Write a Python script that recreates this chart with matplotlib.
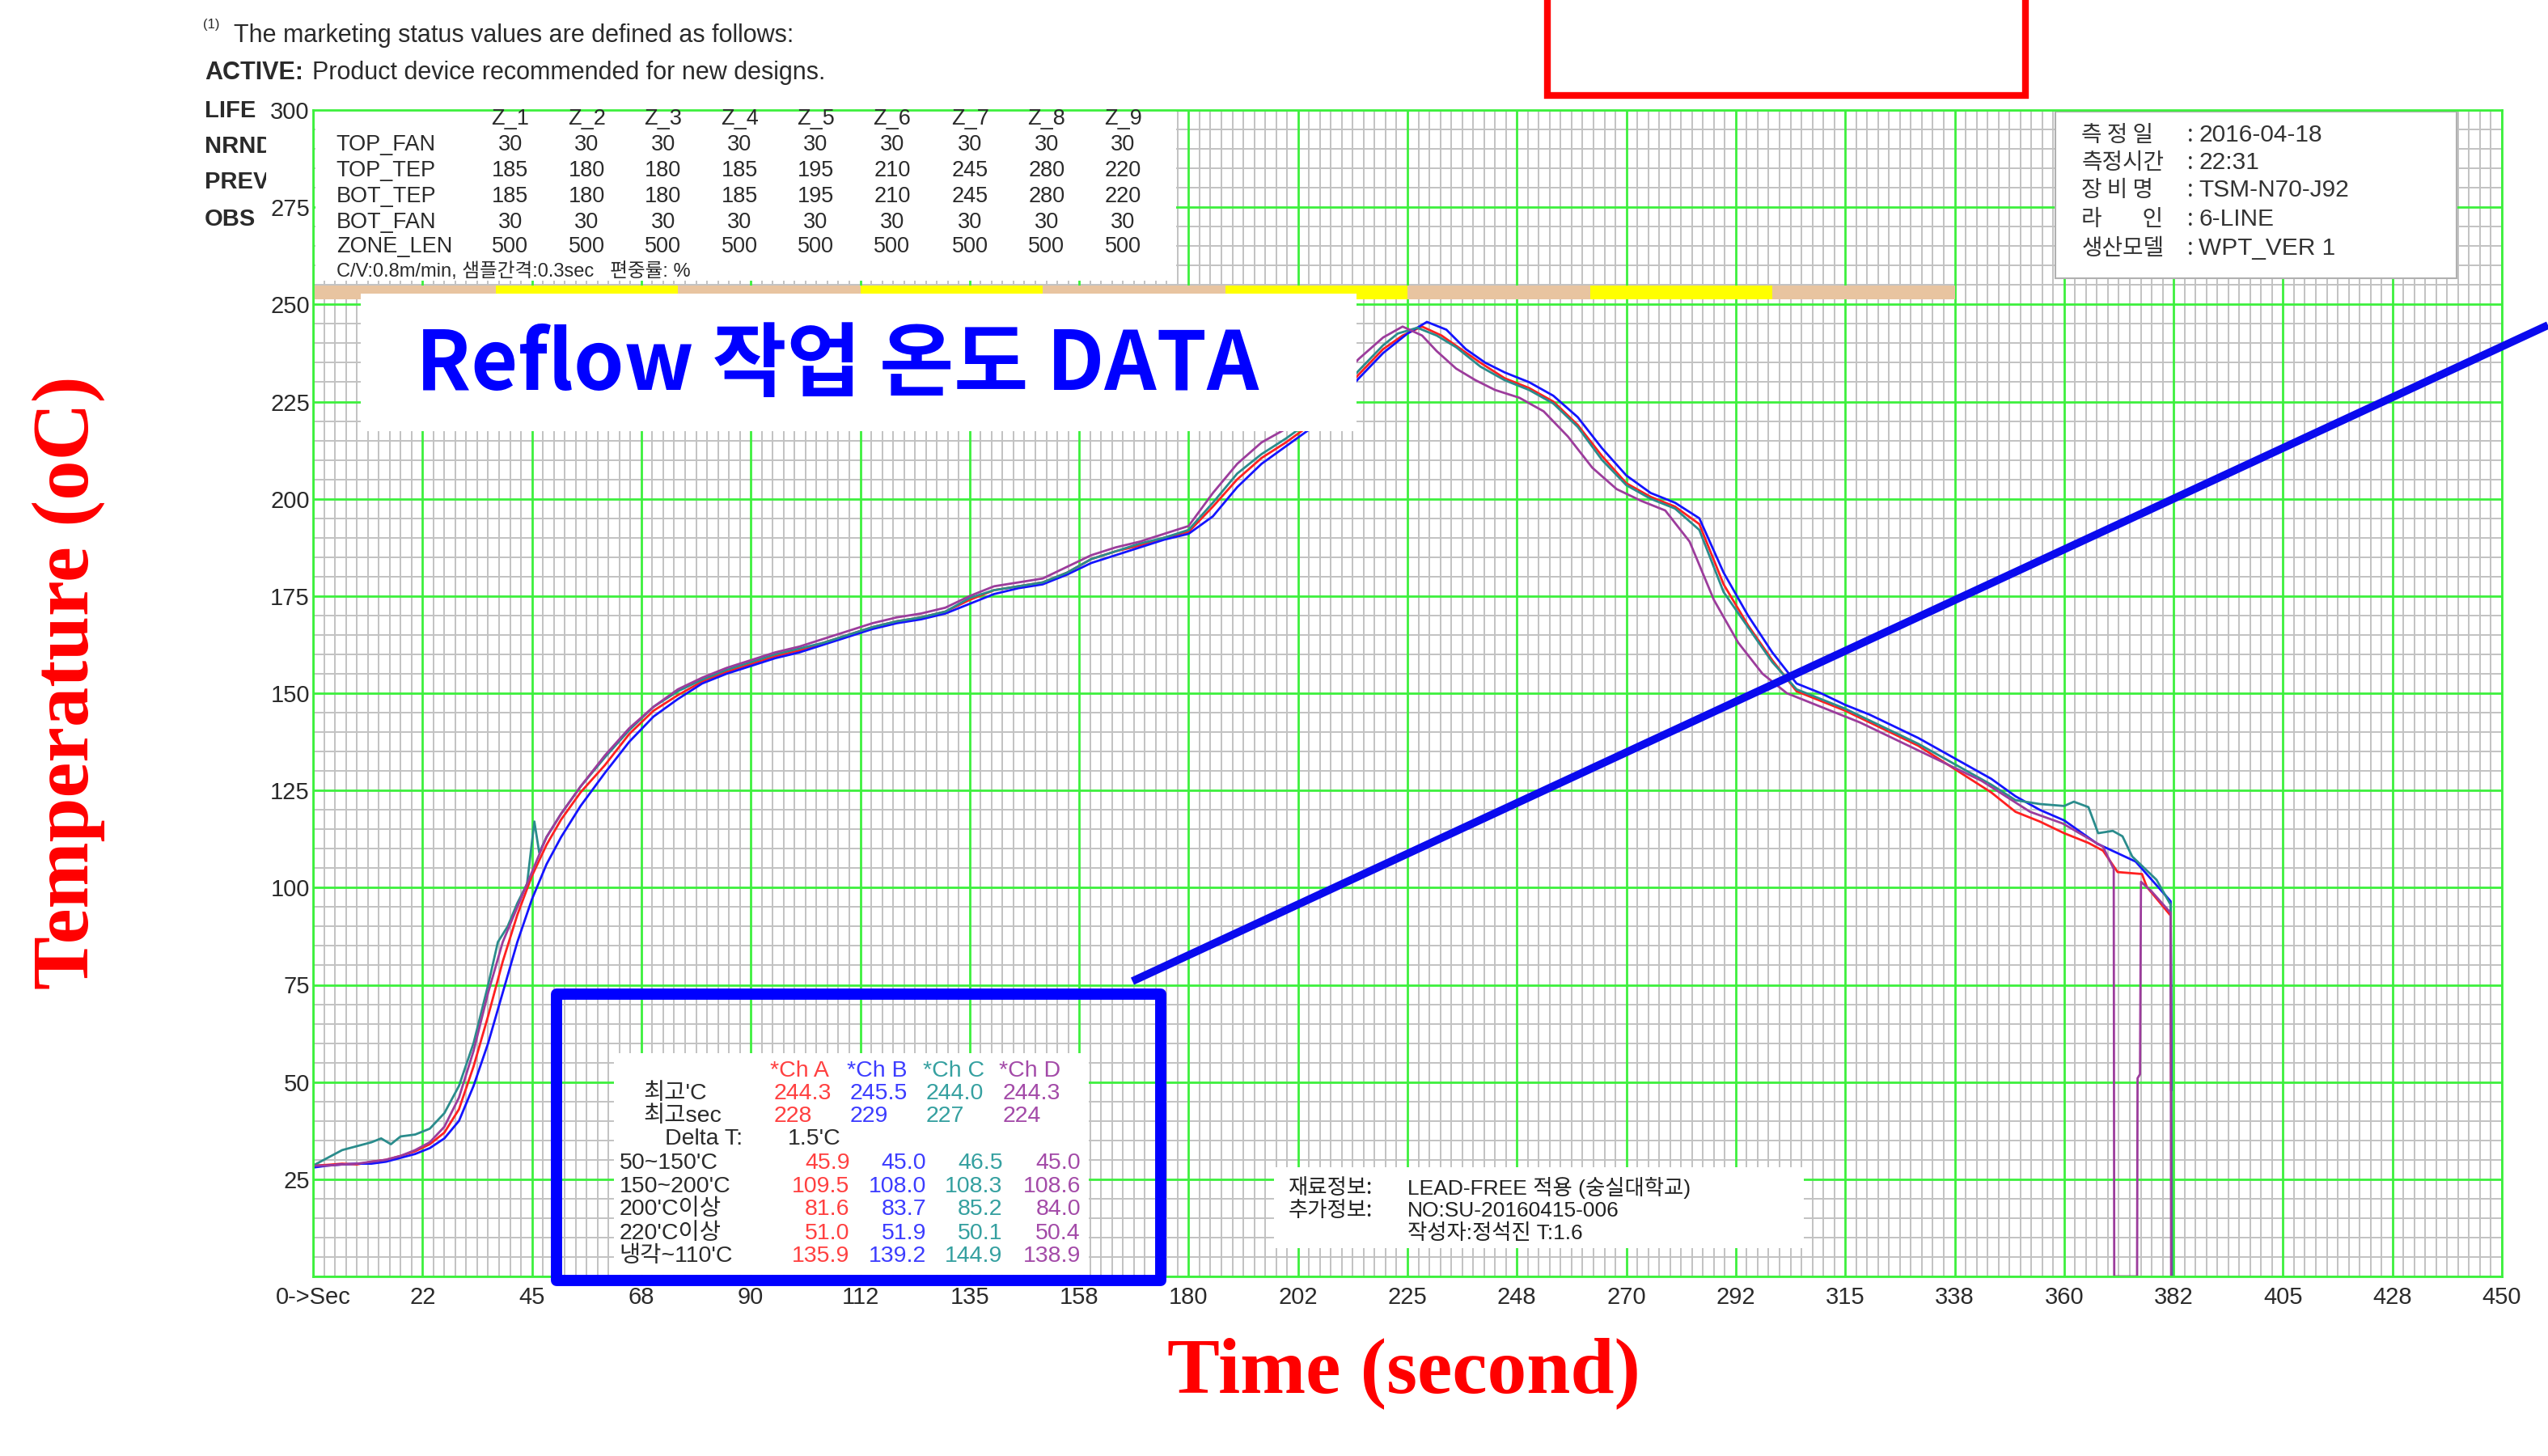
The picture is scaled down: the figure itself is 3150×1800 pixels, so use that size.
import numpy as np
import matplotlib
matplotlib.use("Agg")
import matplotlib.pyplot as plt
from matplotlib import font_manager
from matplotlib.patches import Rectangle
from matplotlib.lines import Line2D
from matplotlib.ticker import MultipleLocator
from matplotlib.transforms import Bbox, TransformedBbox

# ------------------------------------------------------------------ data
X_TICK_LABELS = ['0->Sec', '22', '45', '68', '90', '112', '135', '158', '180', '202',
                 '225', '248', '270', '292', '315', '338', '360', '382', '405', '428', '450']
Y_TICK_VALUES = [25, 50, 75, 100, 125, 150, 175, 200, 225, 250, 275, 300]

# (time s, temperature C) read from the profile
CH_A = [(0, 28.5), (3, 28.7), (6, 29.0), (9, 28.8), (12, 29.5), (15, 30.0), (18, 31.0), (21, 32.2),
        (24, 34.0), (27, 37.0), (30, 43.0), (33, 54.0), (36, 67.0), (39, 81.0), (42, 93.0), (45, 103.0),
        (48, 111.0), (51, 117.5), (55, 124.5), (60, 131.5), (65, 139.5), (70, 145.5), (75, 149.5),
        (80, 153.0), (85, 155.5), (90, 157.5), (95, 159.5), (100, 161.0), (105, 163.0), (110, 165.0),
        (115, 167.0), (120, 168.5), (125, 169.5), (130, 171.0), (135, 174.0), (140, 176.5), (145, 177.5),
        (150, 178.5), (155, 181.0), (160, 184.5), (165, 186.5), (170, 188.0), (175, 190.0), (180, 191.5),
        (185, 198.0), (190, 205.0), (195, 210.5), (200, 214.5), (205, 219.0), (210, 225.0), (215, 232.0),
        (220, 238.5), (224, 242.0), (228, 244.3), (232, 242.0), (236, 238.5), (240, 235.0), (245, 231.0),
        (250, 228.5), (255, 225.0), (260, 219.0), (265, 211.0), (270, 204.0), (275, 200.5), (280, 198.0),
        (285, 193.5), (290, 178.0), (295, 167.5), (300, 158.5), (305, 150.5), (310, 148.0), (315, 145.5),
        (320, 142.5), (325, 139.5), (330, 136.5), (335, 132.5), (340, 128.5), (345, 124.5), (350, 119.5),
        (355, 117.0), (360, 114.0), (365, 111.5), (368, 109.5), (371, 104.0), (376, 103.5), (377, 100.2),
        (381.9, 92.8), (382.0, 48.0)]

CH_B = [(0, 28.0), (3, 28.5), (6, 28.8), (9, 29.0), (12, 29.0), (15, 29.5), (18, 30.5), (21, 31.5),
        (24, 33.0), (27, 35.5), (30, 40.0), (33, 49.0), (36, 60.0), (39, 73.0), (42, 86.0), (45, 97.0),
        (48, 106.0), (51, 113.0), (55, 121.0), (60, 129.5), (65, 137.5), (70, 144.0), (75, 148.5),
        (80, 152.5), (85, 155.0), (90, 157.0), (95, 159.0), (100, 160.5), (105, 162.5), (110, 164.5),
        (115, 166.5), (120, 168.0), (125, 169.0), (130, 170.5), (135, 173.0), (140, 175.5), (145, 177.0),
        (150, 178.0), (155, 180.5), (160, 183.5), (165, 185.5), (170, 187.5), (175, 189.5), (180, 191.0),
        (185, 195.5), (190, 203.0), (195, 209.0), (200, 213.5), (205, 218.0), (210, 224.0), (215, 231.0),
        (220, 237.5), (225, 242.5), (229, 245.5), (233, 243.5), (237, 238.5), (241, 235.0), (245, 232.5),
        (250, 230.0), (255, 226.5), (260, 221.0), (265, 213.0), (270, 206.0), (275, 201.5), (280, 199.0),
        (285, 195.0), (290, 181.0), (295, 170.0), (300, 160.5), (305, 152.5), (310, 150.0), (315, 147.0),
        (320, 144.5), (325, 141.5), (330, 138.5), (335, 135.0), (340, 131.5), (345, 128.0), (350, 123.5),
        (355, 120.0), (360, 117.3), (366.8, 111.3), (374.7, 106.7), (381.9, 96.5), (382.1, 48.0)]

CH_C = [(0, 28.5), (3, 30.5), (6, 32.5), (9, 33.5), (12, 34.5), (14, 35.5), (16, 34.0), (18, 36.0),
        (21, 36.5), (24, 38.0), (27, 42.0), (30, 49.0), (33, 60.0), (36, 75.0), (38, 86.0), (40, 90.0),
        (42, 96.0), (44, 101.0), (45.5, 117.0), (46.5, 109.0), (48, 113.0), (51, 119.0), (55, 126.0),
        (60, 133.5), (65, 140.5), (70, 146.5), (75, 150.5), (80, 153.5), (85, 156.0), (90, 158.0),
        (95, 160.0), (100, 161.5), (105, 163.0), (110, 165.0), (115, 167.0), (120, 168.5), (125, 169.5),
        (130, 171.0), (135, 174.5), (140, 176.5), (145, 177.5), (150, 178.5), (155, 181.0), (160, 184.5),
        (165, 186.5), (170, 188.5), (175, 190.0), (180, 192.0), (185, 199.0), (190, 206.5), (195, 211.5),
        (200, 215.5), (205, 220.0), (210, 226.0), (215, 233.0), (220, 239.5), (223, 242.5), (227, 244.0),
        (231, 242.0), (235, 239.0), (240, 234.0), (245, 230.5), (250, 228.0), (255, 224.5), (260, 218.5),
        (265, 210.0), (270, 203.5), (275, 200.0), (280, 197.5), (285, 192.0), (290, 176.0), (295, 167.0),
        (300, 158.0), (305, 151.0), (310, 148.5), (315, 146.0), (320, 143.0), (325, 140.0), (330, 137.0),
        (335, 133.5), (340, 130.0), (345, 126.5), (350, 122.5), (355, 121.5), (360, 121.0), (362, 122.1),
        (365, 120.7), (367, 114.0), (370, 114.6), (372, 113.2), (374, 108.0), (379, 102.0), (381.9, 95.6),
        (382.2, 0.0)]

CH_D = [(0, 28.5), (3, 28.5), (6, 28.8), (9, 29.0), (12, 29.5), (15, 30.0), (18, 31.0), (21, 32.5),
        (24, 34.5), (27, 38.5), (30, 46.0), (33, 58.0), (36, 73.0), (39, 86.0), (42, 95.0), (45, 104.0),
        (48, 113.0), (51, 119.0), (55, 126.0), (60, 134.0), (65, 141.0), (70, 146.5), (75, 151.0),
        (80, 154.0), (85, 156.5), (90, 158.5), (95, 160.5), (100, 162.0), (105, 164.0), (110, 166.0),
        (115, 168.0), (120, 169.5), (125, 170.5), (130, 172.0), (135, 175.0), (140, 177.5), (145, 178.5),
        (150, 179.5), (155, 182.5), (160, 185.5), (165, 187.5), (170, 189.0), (175, 191.0), (180, 193.0),
        (185, 201.5), (190, 209.0), (195, 214.5), (200, 218.0), (205, 223.0), (210, 229.5), (215, 236.0),
        (220, 241.5), (224, 244.3), (228, 242.0), (231, 238.0), (235, 233.5), (239, 230.5), (243, 228.0),
        (248, 226.0), (253, 222.5), (258, 216.0), (263, 208.0), (268, 202.5), (273, 199.5), (278, 197.0),
        (283, 189.0), (288, 174.0), (293, 163.0), (298, 155.0), (303, 150.0), (308, 147.5), (313, 145.0),
        (318, 142.5), (323, 139.5), (328, 136.5), (333, 133.5), (338, 130.5), (343, 127.5), (348, 123.5),
        (353, 119.5), (359.7, 116.5), (368, 110.5), (370.2, 104.8), (370.3, 0.0), (375.0, 0.0),
        (375.1, 51.0), (375.6, 52.0), (375.8, 101.5), (378, 99.0), (381.9, 93.5), (382.0, 0.0)]

ZONE_NAMES = ['Z_1', 'Z_2', 'Z_3', 'Z_4', 'Z_5', 'Z_6', 'Z_7', 'Z_8', 'Z_9']
TOP_FAN = [30, 30, 30, 30, 30, 30, 30, 30, 30]
TOP_TEP = [185, 180, 180, 185, 195, 210, 245, 280, 220]
BOT_TEP = [185, 180, 180, 185, 195, 210, 245, 280, 220]
BOT_FAN = [30, 30, 30, 30, 30, 30, 30, 30, 30]
ZONE_LEN = [500, 500, 500, 500, 500, 500, 500, 500, 500]   # mm
CONVEYOR = 0.8        # m/min
SAMPLE_INTERVAL = 0.3  # sec

CHANNEL_NAMES = ['Ch A', 'Ch B', 'Ch C', 'Ch D']
PEAK_TEMP = ['244.3', '245.5', '244.0', '244.3']
PEAK_SEC = ['228', '229', '227', '224']
DELTA_T = '1.5'
STAT_LABELS = ["50~150'C", "150~200'C", "200'C이상", "220'C이상", "냉각~110'C"]
STAT_VALUES = [[45.9, 45.0, 46.5, 45.0],
               [109.5, 108.0, 108.3, 108.6],
               [81.6, 83.7, 85.2, 84.0],
               [51.0, 51.9, 50.1, 50.4],
               [135.9, 139.2, 144.9, 138.9]]

INFO_LABELS = ['측 정 일', '측정시간', '장 비 명', '라        인', '생산모델']
INFO_VALUES = ['2016-04-18', '22:31', 'TSM-N70-J92', '6-LINE', 'WPT_VER 1']

EXTRA_LABELS = ['재료정보:', '추가정보:', '']
EXTRA_VALUES = ['LEAD-FREE 적용 (숭실대학교)', 'NO:SU-20160415-006', '작성자:정석진 T:1.6']

STATUS_WORDS = ['LIFE', 'NRND', 'PREV', 'OBS']

# ------------------------------------------------------------------ style
names = {f.name for f in font_manager.fontManager.ttflist}
if 'Liberation Sans Narrow' in names:
    NARROW = 'Liberation Sans Narrow'
    W = 1.2
else:
    NARROW = 'Liberation Sans'
    W = 1.0
SANS = [NARROW, 'Noto Sans CJK KR', 'DejaVu Sans']
KR = ['Noto Sans CJK KR', 'DejaVu Sans']
SERIF = ['Liberation Serif', 'DejaVu Serif']

CH_COLORS = ['#ff2020', '#1414ff', '#2a8c8c', '#9c3c9c']
TXT_COLORS = ['#ff4040', '#3c3cff', '#35a0a0', '#a34aa8']
GREEN = '#3df03d'
GRAY_TXT = '#2a2a2a'

plt.rcParams['font.family'] = SANS

fig = plt.figure(figsize=(31.5, 18), dpi=100)
fig.patch.set_facecolor('white')


def fx(px):
    return px / 1568.0


def fy(py):
    return 1.0 - py / 896.0


ax = fig.add_axes([387 / 3150, 1 - 1578 / 1800, (3093 - 387) / 3150, (1578 - 136) / 1800])
ax.set_xlim(0, 450)
ax.set_ylim(0, 300)

x_major = np.arange(len(X_TICK_LABELS)) * 22.5
ax.set_xticks(x_major)
ax.set_xticklabels(X_TICK_LABELS)
ax.set_yticks(Y_TICK_VALUES)
ax.set_yticklabels([str(v) for v in Y_TICK_VALUES])
ax.xaxis.set_minor_locator(MultipleLocator(2.25))
ax.yaxis.set_minor_locator(MultipleLocator(5))
ax.tick_params(which='both', length=0)
ax.tick_params(axis='x', pad=9, labelsize=21 * W, labelcolor=GRAY_TXT)
ax.tick_params(axis='y', pad=3, labelsize=21 * W, labelcolor=GRAY_TXT)
ax.grid(which='minor', color='#c2c2c2', lw=1.4, zorder=0.3)
ax.set_axisbelow(True)
for xv in x_major:
    ax.axvline(xv, color=GREEN, lw=2.0, zorder=0.8)
for yv in [0] + Y_TICK_VALUES:
    ax.axhline(yv, color=GREEN, lw=2.0, zorder=0.8)
for sp in ax.spines.values():
    sp.set_color(GREEN)
    sp.set_linewidth(2.0)
    sp.set_zorder(5)

# curves
for ch, col in zip([CH_A, CH_B, CH_C, CH_D], CH_COLORS):
    t = [p[0] for p in ch]
    v = [p[1] for p in ch]
    ax.plot(t, v, color=col, lw=2.0, zorder=2)

# white overlay boxes
ax.add_patch(Rectangle((0.5, 256.0), 177.0, 44.0, facecolor='white', edgecolor='none', zorder=3))
ax.add_patch(Rectangle((61.9, 0.4), 97.6, 57.0, facecolor='white', edgecolor='none', zorder=3))
ax.add_patch(Rectangle((197.6, 7.3), 108.9, 20.8, facecolor='white', edgecolor='none', zorder=3))
ax.add_patch(Rectangle((358.2, 256.7), 82.5, 42.8, facecolor='white', edgecolor='#b0b0b0',
                       lw=1.5, zorder=3))

# zone bar
zone_sec = [L / (CONVEYOR * 1000.0 / 60.0) for L in ZONE_LEN]
starts = np.concatenate([[0], np.cumsum(zone_sec)[:-1]])
zcols = ['#e8c4a0' if i % 2 == 0 else '#ffff00' for i in range(len(ZONE_LEN))]
ax.broken_barh(list(zip(starts, zone_sec)), (251.3, 3.5), facecolors=zcols, zorder=3.5)

# reflow title box
ax.add_patch(Rectangle((9.8, 217.4), 204.7, 35.4, facecolor='white', edgecolor='none', zorder=4))

# blue frame around stats
ax.add_patch(Rectangle((50.1, -1.0), 124.2, 73.6, facecolor='none', edgecolor='#0000ff',
                       lw=10, zorder=6, clip_on=False, joinstyle='round'))

# ------------------------------------------------------------------ texts
fig.text(fx(515), fy(225), 'Reflow 작업 온도 DATA', family=KR, weight='bold', color='#0000ff',
         fontsize=72, ha='center', va='center', zorder=10)

fig.text(fx(42), fy(420), 'Temperature (oC)', family=SERIF, weight='bold', color='#ff0000',
         fontsize=71, rotation=90, ha='center', va='center')
fig.text(fx(864), fy(845), 'Time (second)', family=SERIF, weight='bold', color='#ff0000',
         fontsize=70, ha='center', va='center')

# top-left pasted text
fig.text(fx(125), fy(15), '(1)', fontsize=12 * W, color=GRAY_TXT, ha='left', va='center')
fig.text(fx(144), fy(22), 'The marketing status values are defined as follows:', fontsize=22 * W,
         color=GRAY_TXT, ha='left', va='center')
fig.text(fx(126), fy(45), 'ACTIVE:', fontsize=22 * W, weight='bold', color=GRAY_TXT,
         ha='left', va='center')
fig.text(fx(192), fy(45), 'Product device recommended for new designs.', fontsize=22 * W,
         color=GRAY_TXT, ha='left', va='center')
clipbox = TransformedBbox(Bbox([[0, 0], [fx(164), 1]]), fig.transFigure)
for word, yy in zip(STATUS_WORDS, [68, 90, 112, 135]):
    tt = fig.text(fx(126), fy(yy), word, fontsize=21 * W, weight='bold', color=GRAY_TXT,
                  ha='left', va='center')
    tt.set_clip_box(clipbox)
    tt.set_clip_on(True)

# zone table
col_x = [314, 361, 408, 455, 502, 549, 597, 644, 691]
tsz = 19.5 * W
for name, cx in zip(ZONE_NAMES, col_x):
    fig.text(fx(cx), fy(73), name, fontsize=tsz, color=GRAY_TXT, ha='center', va='center')
rows = [('TOP_FAN', TOP_FAN), ('TOP_TEP', TOP_TEP), ('BOT_TEP', BOT_TEP),
        ('BOT_FAN', BOT_FAN), ('ZONE_LEN', ZONE_LEN)]
for (lab, vals), ry in zip(rows, [89, 105, 121, 137, 152]):
    fig.text(fx(207), fy(ry), lab, fontsize=tsz, color=GRAY_TXT, ha='left', va='center')
    for v, cx in zip(vals, col_x):
        fig.text(fx(cx), fy(ry), str(v), fontsize=tsz, color=GRAY_TXT, ha='center', va='center')
fig.text(fx(207), fy(167), 'C/V:%.1fm/min, 샘플간격:%.1fsec   편중률: %%' % (CONVEYOR, SAMPLE_INTERVAL),
         fontsize=17 * W, color=GRAY_TXT, ha='left', va='center', family=SANS)

# top-right info
for lab, val, ry in zip(INFO_LABELS, INFO_VALUES, [83, 100, 117, 135, 153]):
    fig.text(fx(1281), fy(ry), lab, fontsize=20, color='#333333', ha='left', va='center', family=KR)
    fig.text(fx(1348), fy(ry), ':', fontsize=20, color='#333333', ha='center', va='center', family=KR)
    fig.text(fx(1353), fy(ry), val, fontsize=21.5, color='#333333', ha='left', va='center',
             family=['Liberation Sans', 'Noto Sans CJK KR'])

# bottom-right info
for lab, val, ry in zip(EXTRA_LABELS, EXTRA_VALUES, [731, 745, 759]):
    if lab:
        fig.text(fx(793), fy(ry), lab, fontsize=19, color='#222222', ha='left', va='center', family=KR)
    fig.text(fx(866), fy(ry), val, fontsize=19, color='#222222', ha='left', va='center',
             family=['Liberation Sans', 'Noto Sans CJK KR'])

# stats table
ssz = 20.5
SF = ['Liberation Sans', 'Noto Sans CJK KR']
head_x = [474, 521, 568, 615]
for name, hx, c in zip(CHANNEL_NAMES, head_x, TXT_COLORS):
    fig.text(fx(hx), fy(659), '*' + name, fontsize=ssz, color=c, ha='left', va='center', family=SF)
fig.text(fx(396), fy(673), "최고'C", fontsize=ssz, color=GRAY_TXT, ha='left', va='center', family=SF)
fig.text(fx(396), fy(687), '최고sec', fontsize=ssz, color=GRAY_TXT, ha='left', va='center', family=SF)
for pv, ps, hx, c in zip(PEAK_TEMP, PEAK_SEC, head_x, TXT_COLORS):
    fig.text(fx(hx + 2), fy(673), pv, fontsize=ssz, color=c, ha='left', va='center', family=SF)
    fig.text(fx(hx + 2), fy(687), ps, fontsize=ssz, color=c, ha='left', va='center', family=SF)
fig.text(fx(409), fy(701), 'Delta T:', fontsize=ssz, color=GRAY_TXT, ha='left', va='center', family=SF)
fig.text(fx(485), fy(701), DELTA_T + "'C", fontsize=ssz, color=GRAY_TXT, ha='left', va='center', family=SF)
right_x = [523, 570, 617, 665]
for lab, vals, ry in zip(STAT_LABELS, STAT_VALUES, [716, 730, 744, 759, 773]):
    fig.text(fx(381), fy(ry), lab, fontsize=ssz, color=GRAY_TXT, ha='left', va='center', family=SF)
    for v, rx, c in zip(vals, right_x, TXT_COLORS):
        fig.text(fx(rx), fy(ry), '%.1f' % v, fontsize=ssz, color=c, ha='right', va='center', family=SF)

# annotation lines (figure level)
fig.add_artist(Line2D([1400 / 3150, 1.0], [1 - 1213 / 1800, 1 - 402 / 1800], color='#0a0aee', lw=7,
                      transform=fig.transFigure, solid_capstyle='butt'))
fig.add_artist(Line2D([0.6072, 0.6072, 0.7950, 0.7950], [1.01, 0.9345, 0.9345, 1.01], color='#ff0000',
                      lw=6, transform=fig.transFigure, solid_joinstyle='miter'))

fig.savefig('out.png', dpi=100, facecolor='white')
